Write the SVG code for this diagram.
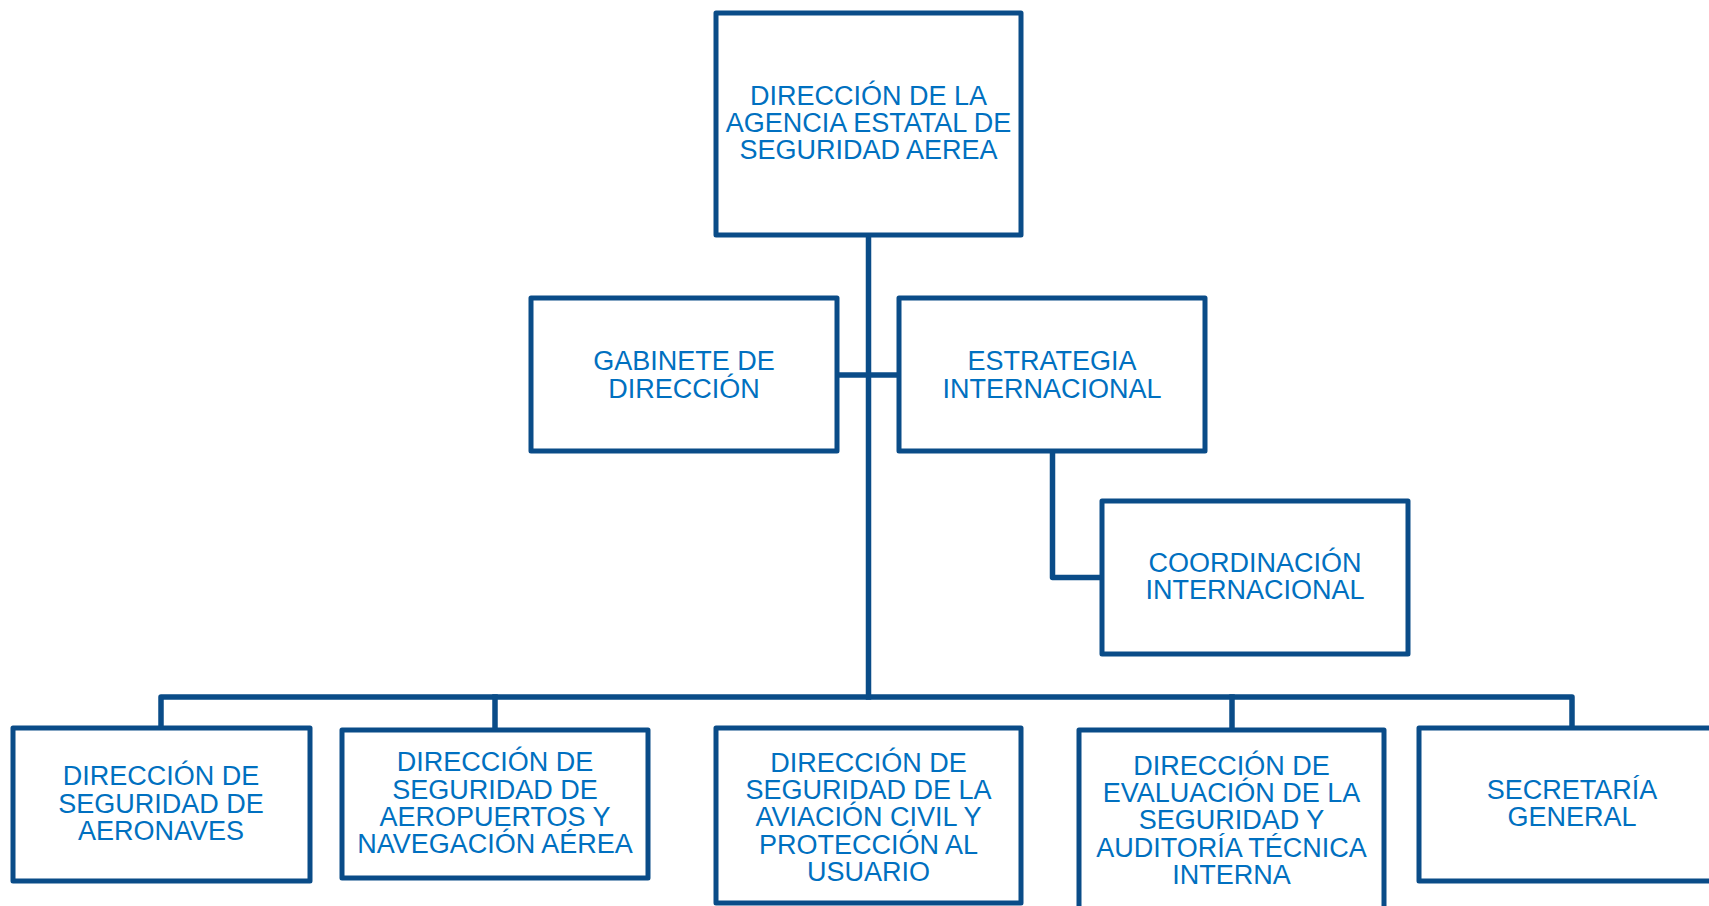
<svg xmlns="http://www.w3.org/2000/svg" width="1709" height="906" viewBox="0 0 1709 906">
<style>
.box{fill:#ffffff;stroke:#0A4C88;stroke-width:5;stroke-linejoin:round}
.ln{fill:none;stroke:#0A4C88;stroke-width:5.5;stroke-linejoin:round;stroke-linecap:square}
.t{font-family:"Liberation Sans",Arial,sans-serif;font-size:27px;fill:#0070C0;text-anchor:middle}
</style>
<rect width="1709" height="906" fill="#ffffff"/>
<g id="connectors">
<path class="ln" d="M868.5,235 V697"/>
<path class="ln" d="M837,375 H899"/>
<path class="ln" d="M1052.5,451 V577.5 H1102"/>
<path class="ln" d="M161,728 V697 H1572 V728"/>
<path class="ln" d="M495,730 V697"/>
<path class="ln" d="M1232,730 V697"/>
</g>
<g id="n-direccion">
<rect class="box" x="716" y="13" width="305" height="222"/>
<text class="t" x="868.5" y="104.5">DIRECCIÓN DE LA</text>
<text class="t" x="868.5" y="131.8">AGENCIA ESTATAL DE</text>
<text class="t" x="868.5" y="159.1">SEGURIDAD AEREA</text>
</g>
<g id="n-gabinete">
<rect class="box" x="531" y="298" width="306" height="153"/>
<text class="t" x="684" y="370.2">GABINETE DE</text>
<text class="t" x="684" y="397.5">DIRECCIÓN</text>
</g>
<g id="n-estrategia">
<rect class="box" x="899" y="298" width="306" height="153"/>
<text class="t" x="1052" y="370.2">ESTRATEGIA</text>
<text class="t" x="1052" y="397.5">INTERNACIONAL</text>
</g>
<g id="n-coordinacion">
<rect class="box" x="1102" y="501" width="306" height="153"/>
<text class="t" x="1255" y="571.7">COORDINACIÓN</text>
<text class="t" x="1255" y="599">INTERNACIONAL</text>
</g>
<g id="n-aeronaves">
<rect class="box" x="13" y="728" width="297" height="153"/>
<text class="t" x="161" y="785.3">DIRECCIÓN DE</text>
<text class="t" x="161" y="812.6">SEGURIDAD DE</text>
<text class="t" x="161" y="839.9">AERONAVES</text>
</g>
<g id="n-aeropuertos">
<rect class="box" x="342" y="730" width="306" height="148"/>
<text class="t" x="495" y="771.3">DIRECCIÓN DE</text>
<text class="t" x="495" y="798.6">SEGURIDAD DE</text>
<text class="t" x="495" y="826">AEROPUERTOS Y</text>
<text class="t" x="495" y="853.3">NAVEGACIÓN AÉREA</text>
</g>
<g id="n-aviacion">
<rect class="box" x="716" y="728" width="305" height="175"/>
<text class="t" x="868.5" y="771.8">DIRECCIÓN DE</text>
<text class="t" x="868.5" y="799.1">SEGURIDAD DE LA</text>
<text class="t" x="868.5" y="826.4">AVIACIÓN CIVIL Y</text>
<text class="t" x="868.5" y="853.7">PROTECCIÓN AL</text>
<text class="t" x="868.5" y="881">USUARIO</text>
</g>
<g id="n-evaluacion">
<rect class="box" x="1079" y="730" width="305" height="185"/>
<text class="t" x="1231.5" y="774.5">DIRECCIÓN DE</text>
<text class="t" x="1231.5" y="801.9">EVALUACIÓN DE LA</text>
<text class="t" x="1231.5" y="829.3">SEGURIDAD Y</text>
<text class="t" x="1231.5" y="856.7">AUDITORÍA TÉCNICA</text>
<text class="t" x="1231.5" y="884.1">INTERNA</text>
</g>
<g id="n-secretaria">
<rect class="box" x="1419" y="728" width="306" height="153"/>
<text class="t" x="1572" y="799">SECRETARÍA</text>
<text class="t" x="1572" y="826.3">GENERAL</text>
</g>
</svg>
